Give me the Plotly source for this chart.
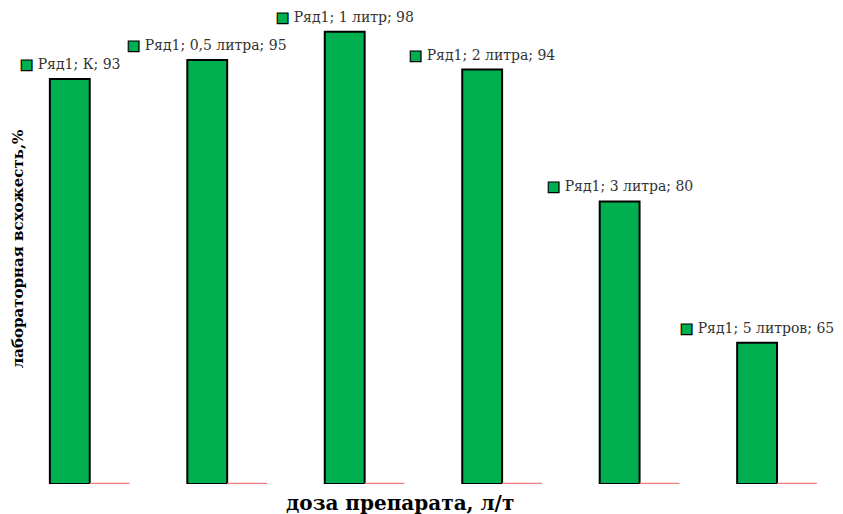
import plotly.graph_objects as go

categories = ["К", "0,5 литра", "1 литр", "2 литра", "3 литра", "5 литров"]
series_name = "Ряд1"
values = [93, 95, 98, 94, 80, 65]
series2 = [0, 0, 0, 0, 0, 0]

GREEN = "#00B050"
RED = "#EE8080"
y_min, y_max = 50, 100
bargap = 0.42
idx = list(range(len(categories)))
bar_w = (1 - bargap) / 2

fig = go.Figure()
fig.add_trace(go.Bar(
    x=idx, y=[v - y_min for v in values], base=y_min,
    marker=dict(color=GREEN, line=dict(color="black", width=2)),
    showlegend=False, hoverinfo="skip",
))
# second (zero-valued) series keeps the group slot; its outline drawn as line
fig.add_trace(go.Bar(
    x=idx, y=series2, base=y_min,
    marker=dict(color="rgba(0,0,0,0)", line=dict(width=0)),
    showlegend=False, hoverinfo="skip",
))
lx, ly = [], []
for i, v in zip(idx, series2):
    lx += [i, i + bar_w, None]
    ly += [y_min + v, y_min + v, None]
fig.add_trace(go.Scatter(
    x=lx, y=ly, mode="lines", line=dict(color=RED, width=2.4),
    showlegend=False, hoverinfo="skip",
))

annotations = []
for i, (c, v) in enumerate(zip(categories, values)):
    sq = "<span style='color:%s;stroke:black;stroke-width:1.2px'>■</span>" % GREEN
    annotations.append(dict(
        x=i - bar_w / 2, y=v, xref="x", yref="y",
        text=f"{sq} {series_name}; {c}; {v}",
        showarrow=False, yshift=15, xanchor="center", yanchor="middle",
        font=dict(family="DejaVu Serif", size=14, color="#333333"),
    ))
annotations.append(dict(
    x=-0.004, y=0.5, xref="paper", yref="paper", xanchor="center", yanchor="middle",
    text="лабораторная всхожесть,%", textangle=-90, showarrow=False,
    font=dict(family="DejaVu Serif", size=15, color="black", weight="bold"),
))
annotations.append(dict(
    x=0.461, y=-0.040, xref="paper", yref="paper", xanchor="center", yanchor="middle",
    text="доза препарата, л/т", showarrow=False,
    font=dict(family="DejaVu Serif", size=20, color="black", weight="bold"),
))

fig.update_layout(
    width=843, height=514,
    margin=dict(l=21, r=0, t=13, b=30),
    paper_bgcolor="white", plot_bgcolor="white",
    barmode="group", bargap=bargap, bargroupgap=0,
    xaxis=dict(range=[-0.5, 5.48], showgrid=False, zeroline=False,
               showticklabels=False, showline=False, ticks=""),
    yaxis=dict(range=[y_min, y_max], showgrid=False, zeroline=False,
               showticklabels=False, showline=False, ticks=""),
    annotations=annotations,
)
fig.write_html("out.html")
